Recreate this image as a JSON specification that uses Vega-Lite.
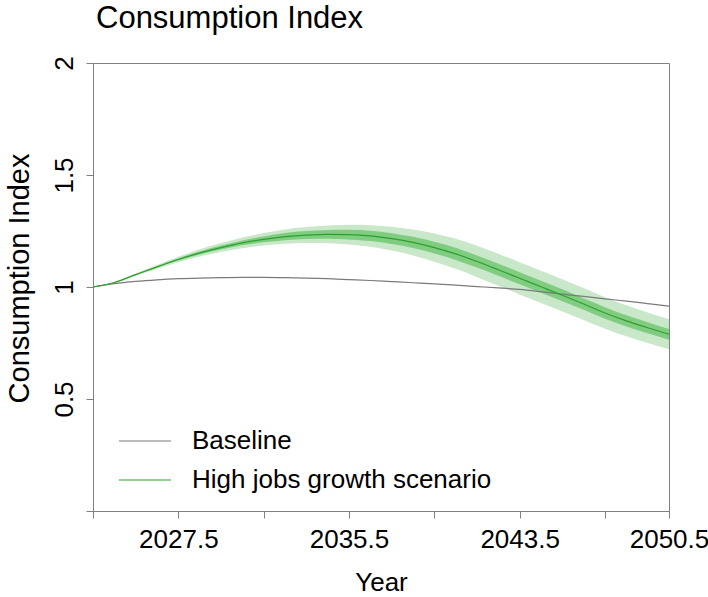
{
  "$schema": "https://vega.github.io/schema/vega-lite/v6.json",
  "width": 576,
  "height": 448,
  "autosize": {"type": "none"},
  "padding": {"left": 93, "top": 63, "right": 39, "bottom": 86},
  "background": "white",
  "config": {
    "font": "Liberation Sans",
    "view": {"stroke": "#808080", "strokeWidth": 1},
    "axis": {"grid": false, "domainColor": "#808080", "tickColor": "#808080", "tickSize": 7, "labelFont": "Liberation Sans", "titleFont": "Liberation Sans", "labelFontSize": 26, "titleFontSize": 26, "labelColor": "black", "titleColor": "black", "titleFontWeight": "normal"}
  },
  "title": {"text": "Consumption Index", "anchor": "start", "frame": "group", "fontSize": 31, "fontWeight": "normal", "font": "Liberation Sans", "color": "black", "offset": 21, "dx": 3},
  "datasets": {
    "band": [
      {"year": 2023.5, "lo_o": 1.000, "hi_o": 1.000, "lo_i": 1.000, "hi_i": 1.000},
      {"year": 2024.5, "lo_o": 1.018, "hi_o": 1.022, "lo_i": 1.019, "hi_i": 1.021},
      {"year": 2025.5, "lo_o": 1.050, "hi_o": 1.060, "lo_i": 1.053, "hi_i": 1.057},
      {"year": 2026.5, "lo_o": 1.082, "hi_o": 1.098, "lo_i": 1.087, "hi_i": 1.093},
      {"year": 2027.5, "lo_o": 1.111, "hi_o": 1.135, "lo_i": 1.118, "hi_i": 1.128},
      {"year": 2028.5, "lo_o": 1.136, "hi_o": 1.168, "lo_i": 1.145, "hi_i": 1.159},
      {"year": 2029.5, "lo_o": 1.156, "hi_o": 1.196, "lo_i": 1.167, "hi_i": 1.185},
      {"year": 2030.5, "lo_o": 1.173, "hi_o": 1.221, "lo_i": 1.186, "hi_i": 1.208},
      {"year": 2031.5, "lo_o": 1.185, "hi_o": 1.241, "lo_i": 1.200, "hi_i": 1.226},
      {"year": 2032.5, "lo_o": 1.193, "hi_o": 1.257, "lo_i": 1.209, "hi_i": 1.241},
      {"year": 2033.5, "lo_o": 1.196, "hi_o": 1.268, "lo_i": 1.214, "hi_i": 1.250},
      {"year": 2034.5, "lo_o": 1.195, "hi_o": 1.275, "lo_i": 1.215, "hi_i": 1.255},
      {"year": 2035.5, "lo_o": 1.190, "hi_o": 1.278, "lo_i": 1.212, "hi_i": 1.256},
      {"year": 2036.5, "lo_o": 1.180, "hi_o": 1.276, "lo_i": 1.205, "hi_i": 1.251},
      {"year": 2037.5, "lo_o": 1.163, "hi_o": 1.269, "lo_i": 1.192, "hi_i": 1.240},
      {"year": 2038.5, "lo_o": 1.141, "hi_o": 1.257, "lo_i": 1.174, "hi_i": 1.224},
      {"year": 2039.5, "lo_o": 1.113, "hi_o": 1.239, "lo_i": 1.150, "hi_i": 1.202},
      {"year": 2040.5, "lo_o": 1.081, "hi_o": 1.215, "lo_i": 1.121, "hi_i": 1.175},
      {"year": 2041.5, "lo_o": 1.044, "hi_o": 1.184, "lo_i": 1.087, "hi_i": 1.141},
      {"year": 2042.5, "lo_o": 1.006, "hi_o": 1.148, "lo_i": 1.050, "hi_i": 1.104},
      {"year": 2043.5, "lo_o": 0.967, "hi_o": 1.111, "lo_i": 1.012, "hi_i": 1.066},
      {"year": 2044.5, "lo_o": 0.929, "hi_o": 1.073, "lo_i": 0.974, "hi_i": 1.028},
      {"year": 2045.5, "lo_o": 0.891, "hi_o": 1.035, "lo_i": 0.936, "hi_i": 0.990},
      {"year": 2046.5, "lo_o": 0.853, "hi_o": 0.995, "lo_i": 0.898, "hi_i": 0.950},
      {"year": 2047.5, "lo_o": 0.814, "hi_o": 0.954, "lo_i": 0.858, "hi_i": 0.910},
      {"year": 2048.5, "lo_o": 0.780, "hi_o": 0.918, "lo_i": 0.824, "hi_i": 0.874},
      {"year": 2049.5, "lo_o": 0.750, "hi_o": 0.886, "lo_i": 0.793, "hi_i": 0.843},
      {"year": 2050.5, "lo_o": 0.722, "hi_o": 0.856, "lo_i": 0.765, "hi_i": 0.813}
    ],
    "lines": [
      {"year": 2023.5, "series": "Baseline", "value": 1.000},
      {"year": 2024.5, "series": "Baseline", "value": 1.015},
      {"year": 2025.5, "series": "Baseline", "value": 1.025},
      {"year": 2026.5, "series": "Baseline", "value": 1.032},
      {"year": 2027.5, "series": "Baseline", "value": 1.037},
      {"year": 2028.5, "series": "Baseline", "value": 1.040},
      {"year": 2029.5, "series": "Baseline", "value": 1.042},
      {"year": 2030.5, "series": "Baseline", "value": 1.043},
      {"year": 2031.5, "series": "Baseline", "value": 1.043},
      {"year": 2032.5, "series": "Baseline", "value": 1.042},
      {"year": 2033.5, "series": "Baseline", "value": 1.040},
      {"year": 2034.5, "series": "Baseline", "value": 1.037},
      {"year": 2035.5, "series": "Baseline", "value": 1.033},
      {"year": 2036.5, "series": "Baseline", "value": 1.029},
      {"year": 2037.5, "series": "Baseline", "value": 1.024},
      {"year": 2038.5, "series": "Baseline", "value": 1.019},
      {"year": 2039.5, "series": "Baseline", "value": 1.014},
      {"year": 2040.5, "series": "Baseline", "value": 1.008},
      {"year": 2041.5, "series": "Baseline", "value": 1.002},
      {"year": 2042.5, "series": "Baseline", "value": 0.996},
      {"year": 2043.5, "series": "Baseline", "value": 0.989},
      {"year": 2044.5, "series": "Baseline", "value": 0.979},
      {"year": 2045.5, "series": "Baseline", "value": 0.968},
      {"year": 2046.5, "series": "Baseline", "value": 0.958},
      {"year": 2047.5, "series": "Baseline", "value": 0.947},
      {"year": 2048.5, "series": "Baseline", "value": 0.937},
      {"year": 2049.5, "series": "Baseline", "value": 0.926},
      {"year": 2050.5, "series": "Baseline", "value": 0.915},
      {"year": 2023.5, "series": "High jobs growth scenario", "value": 1.000},
      {"year": 2024.5, "series": "High jobs growth scenario", "value": 1.020},
      {"year": 2025.5, "series": "High jobs growth scenario", "value": 1.055},
      {"year": 2026.5, "series": "High jobs growth scenario", "value": 1.090},
      {"year": 2027.5, "series": "High jobs growth scenario", "value": 1.123},
      {"year": 2028.5, "series": "High jobs growth scenario", "value": 1.152},
      {"year": 2029.5, "series": "High jobs growth scenario", "value": 1.176},
      {"year": 2030.5, "series": "High jobs growth scenario", "value": 1.197},
      {"year": 2031.5, "series": "High jobs growth scenario", "value": 1.213},
      {"year": 2032.5, "series": "High jobs growth scenario", "value": 1.225},
      {"year": 2033.5, "series": "High jobs growth scenario", "value": 1.232},
      {"year": 2034.5, "series": "High jobs growth scenario", "value": 1.235},
      {"year": 2035.5, "series": "High jobs growth scenario", "value": 1.234},
      {"year": 2036.5, "series": "High jobs growth scenario", "value": 1.228},
      {"year": 2037.5, "series": "High jobs growth scenario", "value": 1.216},
      {"year": 2038.5, "series": "High jobs growth scenario", "value": 1.199},
      {"year": 2039.5, "series": "High jobs growth scenario", "value": 1.176},
      {"year": 2040.5, "series": "High jobs growth scenario", "value": 1.148},
      {"year": 2041.5, "series": "High jobs growth scenario", "value": 1.114},
      {"year": 2042.5, "series": "High jobs growth scenario", "value": 1.077},
      {"year": 2043.5, "series": "High jobs growth scenario", "value": 1.039},
      {"year": 2044.5, "series": "High jobs growth scenario", "value": 1.001},
      {"year": 2045.5, "series": "High jobs growth scenario", "value": 0.963},
      {"year": 2046.5, "series": "High jobs growth scenario", "value": 0.924},
      {"year": 2047.5, "series": "High jobs growth scenario", "value": 0.884},
      {"year": 2048.5, "series": "High jobs growth scenario", "value": 0.849},
      {"year": 2049.5, "series": "High jobs growth scenario", "value": 0.818},
      {"year": 2050.5, "series": "High jobs growth scenario", "value": 0.789}
    ]
  },
  "encoding": {
    "x": {
      "field": "year", "type": "quantitative",
      "scale": {"domain": [2023.5, 2050.5], "nice": false, "zero": false},
      "axis": {
        "title": "Year",
        "values": [2023.5, 2027.5, 2031.5, 2035.5, 2039.5, 2043.5, 2047.5, 2050.5],
        "labelExpr": "indexof([2027.5, 2035.5, 2043.5, 2050.5], datum.value) >= 0 ? format(datum.value, '.1f') : ''",
        "labelBaseline": "alphabetic",
        "labelPadding": 29,
        "labelFlush": false,
        "labelOverlap": false,
        "titleBaseline": "alphabetic",
        "titleX": 288,
        "titleY": 79,
        "titleAnchor": "middle"
      }
    }
  },
  "layer": [
    {
      "data": {"name": "band"},
      "mark": {"type": "area", "interpolate": "monotone", "color": "#c9e8c9", "opacity": 1},
      "encoding": {
        "y": {
          "field": "lo_o", "type": "quantitative",
          "scale": {"domain": [0, 2], "nice": false, "zero": false},
          "axis": {
            "title": "Consumption Index",
            "values": [0, 0.5, 1, 1.5, 2],
            "labelExpr": "datum.value == 0 ? '' : format(datum.value, '')",
            "labelAngle": -90,
            "labelAlign": "center",
            "labelBaseline": "alphabetic",
            "labelPadding": 14,
            "labelFlush": false,
            "labelOverlap": false,
            "titleFontSize": 29,
            "titleAngle": -90,
            "titleBaseline": "alphabetic",
            "titleAlign": "center",
            "titleX": -65,
            "titleY": 215
          }
        },
        "y2": {"field": "hi_o"}
      }
    },
    {
      "data": {"name": "band"},
      "mark": {"type": "area", "interpolate": "monotone", "color": "#80cc80", "opacity": 1},
      "encoding": {
        "y": {"field": "lo_i", "type": "quantitative"},
        "y2": {"field": "hi_i"}
      }
    },
    {
      "data": {"name": "lines"},
      "mark": {"type": "line", "interpolate": "monotone", "strokeWidth": 1.2},
      "encoding": {
        "y": {"field": "value", "type": "quantitative"},
        "color": {
          "field": "series", "type": "nominal",
          "scale": {"domain": ["Baseline", "High jobs growth scenario"], "range": ["#7a7a7a", "#2ca02c"]},
          "legend": {
            "title": null,
            "orient": "none",
            "legendX": 32,
            "legendY": 358,
            "padding": 0,
            "symbolType": "M-1.37,0H1.37",
            "symbolSize": 1444,
            "symbolStrokeWidth": 1.2,
            "symbolFillColor": "transparent",
            "labelFont": "Liberation Sans",
            "labelFontSize": 26,
            "labelColor": "black",
            "labelOffset": 27,
            "labelLimit": 500,
            "rowPadding": 6
          }
        }
      }
    }
  ]
}
